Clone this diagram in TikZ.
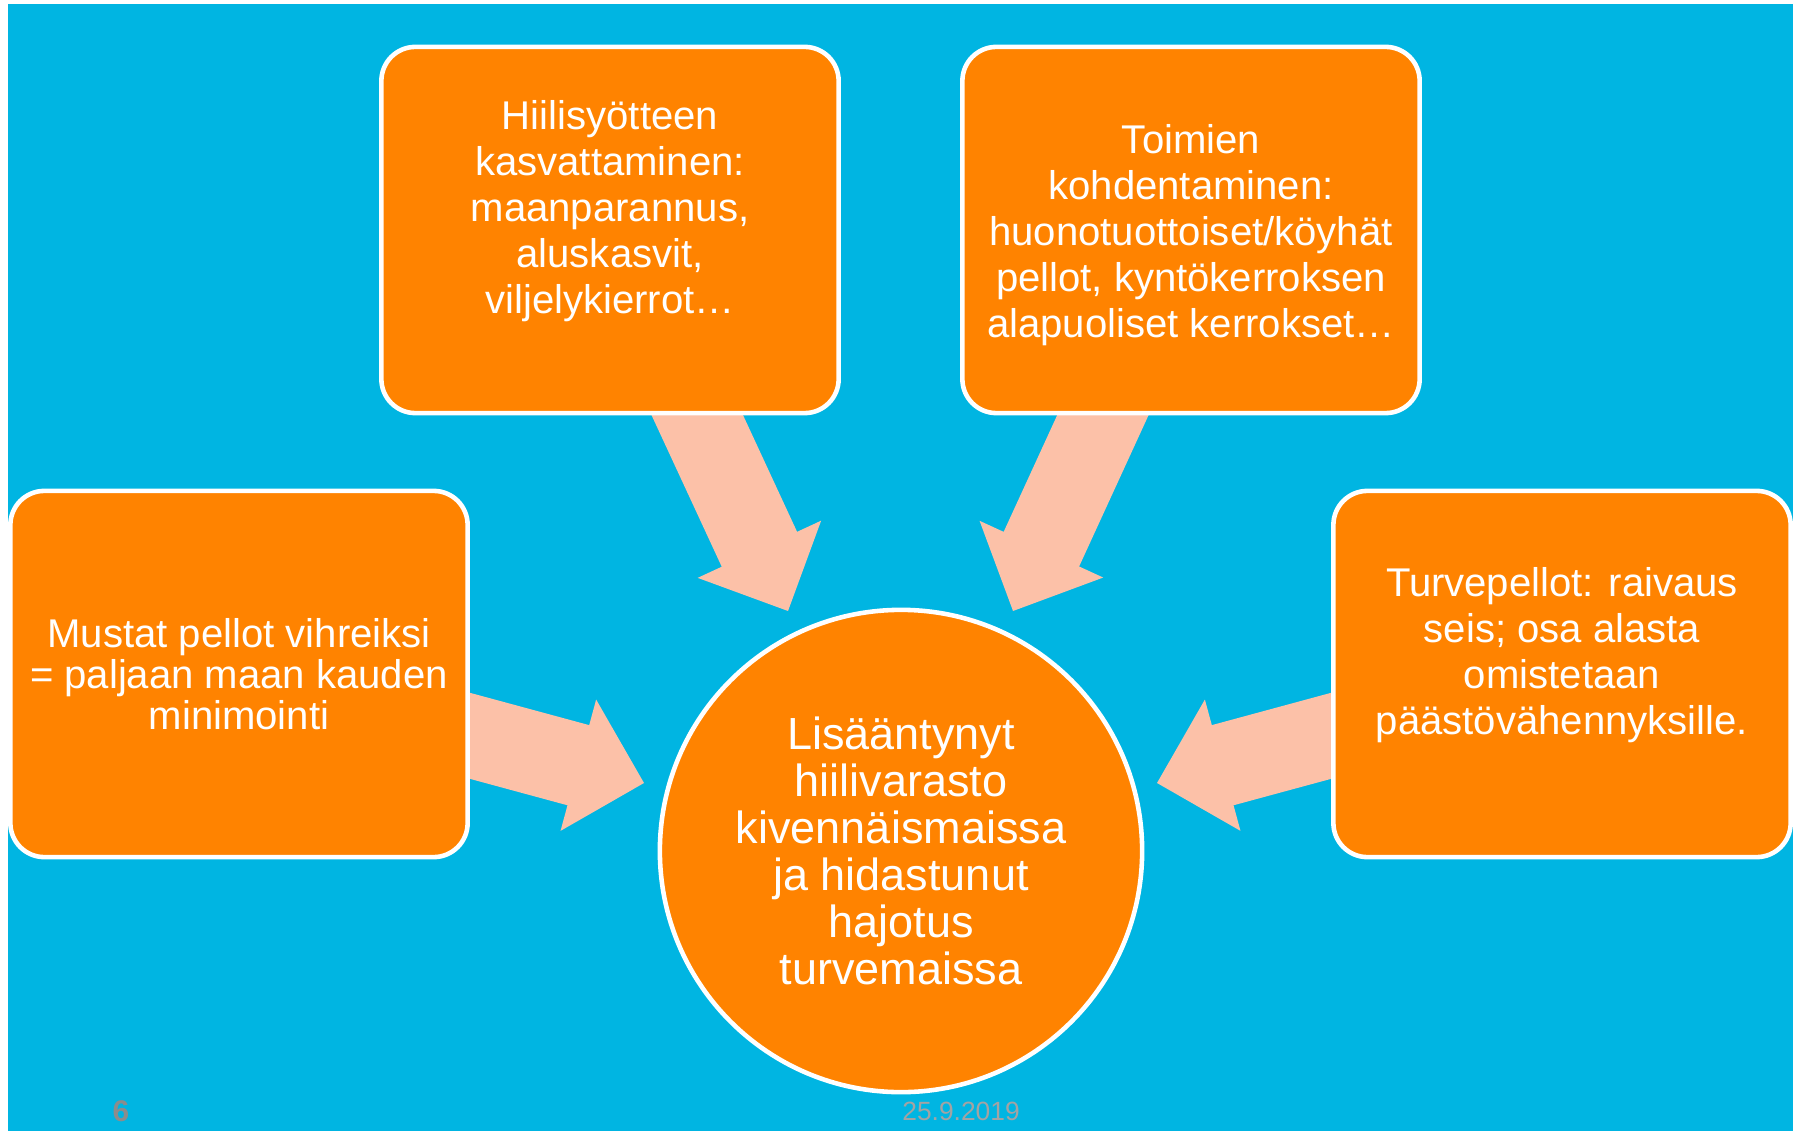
\documentclass[tikz,border=0pt]{standalone}
\usepackage{fontspec}
\setmainfont{Liberation Sans}
\usetikzlibrary{calc}
\definecolor{tausta}{RGB}{0,181,226}
\definecolor{oranssi}{RGB}{255,131,0}
\definecolor{persikka}{RGB}{252,193,168}
\definecolor{harmaa}{RGB}{140,140,140}
\tikzset{
  laatikko/.style={draw=white, line width=1.3pt, fill=oranssi, rounded corners=0.34cm,
    minimum width=4.57cm, minimum height=3.66cm, inner sep=0pt, align=center,
    text=white, font=\fontsize{11.4}{13.1}\selectfont},
  pallo/.style={circle, draw=white, line width=1.3pt, fill=oranssi, minimum size=4.82cm,
    inner sep=0pt, align=center, text=white, font=\fontsize{12.8}{13.4}\selectfont},
  nuoli/.style={fill=persikka},
  alaviite/.style={text=harmaa, font=\fontsize{7.5}{8}\selectfont}
}
\begin{document}
\begin{tikzpicture}[x=0.01cm, y=-0.01cm]
  \useasboundingbox (0,0) rectangle (1798,1131);
  \fill[tausta] (8,4) rectangle (1793,1131);
  % nuolten alku- ja kärkipisteet
  \coordinate (s1) at (681,380);  \coordinate (t1) at (788,611);
  \coordinate (s2) at (1119,380); \coordinate (t2) at (1013,611);
  \coordinate (s3) at (430,725);  \coordinate (t3) at (644,783);
  \coordinate (s4) at (1371,725); \coordinate (t4) at (1157,783);
  \foreach \s/\t in {s1/t1, s2/t2, s3/t3, s4/t4}
    \fill[nuoli] ($(\s)!0.415cm!90:(\t)$)
      -- ($($(\t)!0.68cm!(\s)$)!0.415cm!-90:(\s)$)
      -- ($($(\t)!0.68cm!(\s)$)!0.68cm!-90:(\s)$)
      -- (\t)
      -- ($($(\t)!0.68cm!(\s)$)!0.68cm!90:(\s)$)
      -- ($($(\t)!0.68cm!(\s)$)!0.415cm!90:(\s)$)
      -- ($(\s)!0.415cm!-90:(\t)$) -- cycle;
  % laatikot
  \node[laatikko] (hiili) at (610,230) {Hiilisyötteen\\ kasvattaminen:\\ maanparannus,\\ aluskasvit,\\ viljelykierrot…\\ \mbox{}};
  \node[laatikko] (toimet) at (1191,230) {\rule{0pt}{0.4cm}Toimien\\ kohdentaminen:\\ huonotuottoiset/köyhät\\ pellot, kyntökerroksen\\ alapuoliset kerrokset…};
  \node[laatikko, font=\fontsize{11.4}{11.7}\selectfont] (mustat) at (239,674) {Mustat pellot vihreiksi\\ = paljaan maan kauden\\ minimointi};
  \node[laatikko] (turve) at (1562,674) {Turvepellot: raivaus\\ seis; osa alasta\\ omistetaan\\ päästövähennyksille.\\ \mbox{}};
  \node[pallo] (tulos) at (901,851) {Lisääntynyt\\ hiilivarasto\\ kivennäismaissa\\ ja hidastunut\\ hajotus\\ turvemaissa};
  % alatunniste
  \node[alaviite, font=\bfseries\fontsize{8.5}{9}\selectfont] (sivu) at (121,1111) {6};
  \node[alaviite, text=harmaa!80] (pvm) at (961,1111) {25.9.2019};
\end{tikzpicture}
\end{document}
